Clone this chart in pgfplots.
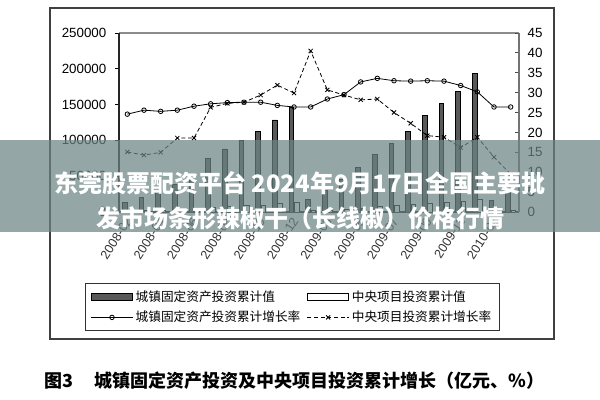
\documentclass[border=0pt]{standalone}
\usepackage{fontspec}
\setmainfont{Liberation Sans}
\newfontfamily\cjk{Noto Sans CJK SC}
\usepackage{pgfplots}
\pgfplotsset{compat=1.18}

% 1 px of the reference = 0.75pt
\pgfplotsset{
  base/.style={
    at={(89.25pt,141pt)}, anchor=south west,
    scale only axis, width=300pt, height=134.25pt,
    xmin=-0.5, xmax=23.5,
    /pgf/number format/assume math mode=true,
    tick label style={font=\fontsize{10}{12}\selectfont},
  },
  barleg/.style={legend image code/.code={\draw[##1] (0pt,-2.6pt) rectangle (31pt,2.6pt);}},
  lineleg/.style={legend image code/.code={\draw[mark repeat=2,mark phase=2,##1] plot coordinates {(0pt,0pt) (15.5pt,0pt) (31pt,0pt)};}},
}

\begin{document}
\begin{tikzpicture}
\fill[white] (0,0) rectangle (450pt,300pt);
\path[use as bounding box] (0,0) rectangle (450pt,300pt);
% outer frame
\draw[black!75, line width=1.4pt] (37.5pt,45.75pt) rectangle (415.5pt,294pt);
% top edge of plot area
\draw[black!45, line width=0.8pt] (89.25pt,275.25pt) -- (389.25pt,275.25pt);

\begin{axis}[base,
  ymin=0, ymax=250000,
  axis y line*=left, axis x line*=bottom,
  axis line style={black!85, line width=1pt},
  ytick={0,50000,100000,150000,200000,250000},
  scaled y ticks=false,
  yticklabel style={/pgf/number format/fixed, /pgf/number format/1000 sep={}, xshift=-3pt},
  y tick style={black, line width=0.6pt}, tick align=outside, major tick length=3pt,
  xtick={0,2,...,22},
  xticklabels={2008-02,2008-04,2008-06,2008-08,2008-10,2008-12,2009-03,2009-05,2009-07,2009-09,2009-11,2010-02},
  x tick label style={rotate=57, anchor=east, font=\fontsize{9.5}{11}\selectfont, inner sep=1pt, yshift=-2pt, text=black!80},
  major x tick style={draw=none},
  ybar=0.5pt, bar width=3.5pt,
]
% urban fixed-asset investment, cumulative
\addplot[fill=black!65, draw=black, line width=0.5pt] coordinates {
  (0,13000) (1,20000) (2,30000) (3,38000) (4,46000) (5,75000)
  (6,88000) (7,100500) (8,113000) (9,128500) (10,146700)
  (11,17000) (12,30000) (13,45000) (14,62000) (15,81000) (16,96000)
  (17,113000) (18,135000) (19,152000) (20,168000) (21,194000)
  (22,16000) (23,30000)
};
% central projects, cumulative
\addplot[fill=white, draw=black, line width=0.5pt] coordinates {
  (0,1300) (1,2000) (2,2900) (3,3700) (4,4500) (5,6500)
  (6,7600) (7,8700) (8,10000) (9,11500) (10,14000)
  (11,1700) (12,3000) (13,4200) (14,5800) (15,7300) (16,8700)
  (17,10200) (18,12000) (19,13500) (20,15000) (21,18000)
  (22,1500) (23,2600)
};
\end{axis}

\begin{axis}[base,
  ymin=0, ymax=45,
  axis y line*=right, axis x line=none,
  axis line style={black!55, line width=0.8pt},
  ytick={0,5,...,45},
  yticklabel style={xshift=3pt},
  y tick style={black!70, line width=0.6pt}, tick align=inside, major tick length=3pt,
  legend columns=2,
  legend cell align=left,
  legend style={at={(-0.085,-0.397)}, anchor=north west,
    draw=black!80, line width=0.9pt,
    font=\cjk\fontsize{9.5}{11}\selectfont,
    inner xsep=4pt, inner ysep=3pt,
    /tikz/every even column/.append style={column sep=3pt},
    row sep=2pt},
]
\addlegendimage{barleg, fill=black!65, draw=black, line width=0.6pt}
\addlegendentry{城镇固定资产投资累计值}
\addlegendimage{barleg, fill=white, draw=black, line width=0.6pt}
\addlegendentry{中央项目投资累计值\hspace{24pt}}
% urban FAI growth, %
\addplot[lineleg, black, line width=0.6pt, mark=o, mark size=1.7pt, mark options={solid, fill=white}] coordinates {
  (0,24.6) (1,25.6) (2,25.3) (3,25.6) (4,26.6) (5,27.2) (6,27.5) (7,27.6)
  (8,27.6) (9,26.8) (10,26.4) (11,26.4) (12,28.4) (13,29.5) (14,32.7) (15,33.6)
  (16,33.0) (17,32.9) (18,33.0) (19,32.9) (20,31.8) (21,30.2) (22,26.4) (23,26.4)
};
\addlegendentry{城镇固定资产投资累计增长率}
% central projects growth, %
\addplot[lineleg, black, line width=0.6pt, densely dashed, mark=x, mark size=2.2pt, mark options={solid}] coordinates {
  (0,15.1) (1,14.3) (2,15.0) (3,18.6) (4,18.6) (5,26.3) (6,27.3) (7,27.6)
  (8,29.4) (9,31.9) (10,29.9) (11,40.5) (12,30.7) (13,29.4) (14,28.2) (15,28.4)
  (16,25.0) (17,22.3) (18,19.2) (19,18.8) (20,16.2) (21,18.8) (22,13.8) (23,9.5)
};
\addlegendentry{中央项目投资累计增长率}
\end{axis}

% banner across the picture
\fill[fill={rgb,255:red,108;green,132;blue,132}, opacity=0.72] (0pt,126pt) rectangle (450pt,195pt);
\node[white, font=\cjk\bfseries\fontsize{18}{20}\selectfont, inner sep=0pt] at (225pt,162.75pt) {东莞股票配资平台 2024年9月17日全国主要批};
\node[white, font=\cjk\bfseries\fontsize{18}{20}\selectfont, inner sep=0pt] at (225pt,136.5pt) {发市场条形辣椒干（长线椒）价格行情};

% caption
\node[anchor=west, inner sep=0pt, font=\cjk\bfseries\fontsize{13.5}{15}\selectfont] at (33pt,14.25pt) {图3};
\node[anchor=west, inner sep=0pt, font=\cjk\bfseries\fontsize{13.5}{15}\selectfont] at (71pt,14.25pt) {城镇固定资产投资及中央项目投资累计增长（亿元、\%）};
\end{tikzpicture}
\end{document}
